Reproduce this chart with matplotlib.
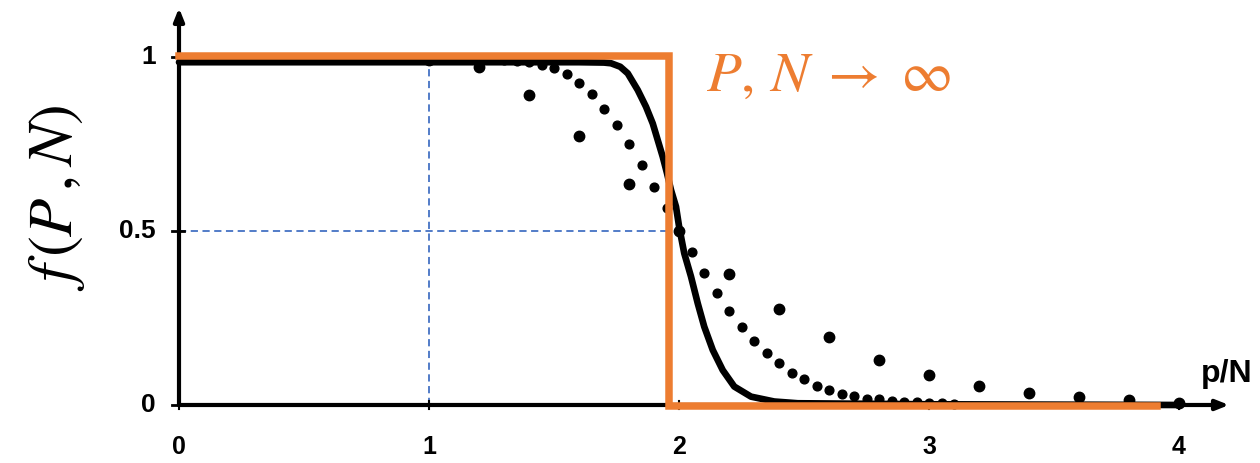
import numpy as np
import matplotlib.pyplot as plt

# Large-N curve (drawn as a thick line of dots)
dense_x = [0.0, 1.0, 1.6, 1.70, 1.728, 1.765, 1.795, 1.835, 1.868, 1.895, 1.915, 1.935,
           1.952, 1.968, 1.988, 2.001, 2.021, 2.048, 2.075, 2.101, 2.135, 2.175,
           2.221, 2.288, 2.381, 2.475, 3.0, 4.0]
dense_y = [0.985, 0.985, 0.985, 0.984, 0.982, 0.972, 0.953, 0.905, 0.857, 0.809, 0.761, 0.713,
           0.666, 0.618, 0.57, 0.51, 0.436, 0.369, 0.292, 0.225, 0.158, 0.10,
           0.053, 0.024, 0.01, 0.005, 0.002, 0.0]

# Medium N
mid_x = [1.30, 1.35, 1.40, 1.45, 1.50, 1.55, 1.60, 1.65, 1.70, 1.75, 1.80, 1.85,
         1.90, 1.95, 2.00, 2.05, 2.10, 2.15, 2.20, 2.25, 2.30, 2.35, 2.40, 2.45,
         2.50, 2.55, 2.60, 2.65, 2.70, 2.75, 2.80, 2.85, 2.90, 2.95, 3.00, 3.05, 3.10]
mid_y = [0.99, 0.988, 0.985, 0.977, 0.967, 0.95, 0.926, 0.893, 0.851, 0.804, 0.75, 0.689,
         0.627, 0.565, 0.5, 0.439, 0.38, 0.321, 0.271, 0.223, 0.185, 0.15, 0.12, 0.093,
         0.075, 0.056, 0.043, 0.033, 0.026, 0.018, 0.016, 0.012, 0.01, 0.008, 0.006, 0.005, 0.004]

# Small N
small_x = [1.0, 1.2, 1.4, 1.6, 1.8, 2.0, 2.2, 2.4, 2.6, 2.8, 3.0, 3.2, 3.4, 3.6, 3.8, 4.0]
small_y = [0.99, 0.97, 0.89, 0.773, 0.635, 0.5, 0.376, 0.275, 0.195, 0.13, 0.086,
           0.055, 0.034, 0.022, 0.014, 0.006]

# Limit P, N -> infinity: step at p/N = 2
step_x = [0.0, 1.96, 1.96, 3.91]
step_y = [1.003, 1.003, -0.004, -0.004]

x_ticks = [0, 1, 2, 3, 4]
y_ticks = [0, 0.5, 1]
y_tick_labels = ["0", "0.5", "1"]

orange = "#ED7D31"
blue = "#4472C4"

plt.rcParams["mathtext.fontset"] = "stix"

fig = plt.figure(figsize=(12.6, 4.63), dpi=100)
ax = fig.add_axes([0, 0, 1, 1])
ax.set_xlim(-0.716, 4.324)
ax.set_ylim(-0.1667, 1.1638)
ax.axis("off")

# guide lines
ax.plot([1, 1], [0, 1], color=blue, lw=1.3, ls=(0, (4, 2.5)), zorder=1)
ax.plot([0, 1.96], [0.5, 0.5], color=blue, lw=1.3, ls=(0, (4, 2.5)), zorder=1)

# axes with arrow heads
arrow = dict(arrowstyle="-|>,head_length=0.75,head_width=0.3",
             color="black", lw=3, shrinkA=0, shrinkB=0)
ax.annotate("", xy=(4.2, 0), xytext=(0, 0), arrowprops=arrow, zorder=2)
ax.annotate("", xy=(0, 1.141), xytext=(0, 0), arrowprops=arrow, zorder=2)

for yt, lab in zip(y_ticks, y_tick_labels):
    ax.plot([-0.03, 0.02], [yt, yt], color="black", lw=2)
    ax.text(-0.092, yt, lab, ha="right", va="center", fontsize=19,
            fontweight="bold", family="Liberation Sans")
for xt in x_ticks:
    ax.plot([xt, xt], [-0.012, 0.012], color="black", lw=1.5)
    ax.text(xt, -0.12, str(xt), ha="center", va="center", fontsize=18,
            fontweight="bold", family="Liberation Sans")
ax.text(4.19, 0.09, "p/N", ha="center", va="center", fontsize=23,
        fontweight="bold", family="Liberation Sans")

# data
ax.plot(dense_x, dense_y, color="black", lw=4.8, solid_capstyle="round", zorder=3)
ax.plot(mid_x, mid_y, "o", color="black", ms=6.3, zorder=3)
ax.plot(small_x, small_y, "o", color="black", ms=7.5, zorder=3)
ax.plot(step_x, step_y, color=orange, lw=5.4, solid_joinstyle="miter", zorder=4)

ax.text(2.11, 0.948, r"$P,\,N\;\rightarrow\;\infty$", color=orange, fontsize=41,
        ha="left", va="center")
ax.text(-0.49, 0.595, r"$f\,(P\,,N)$", fontsize=45, rotation=90,
        ha="center", va="center")

fig.savefig("out.png", dpi=100)
